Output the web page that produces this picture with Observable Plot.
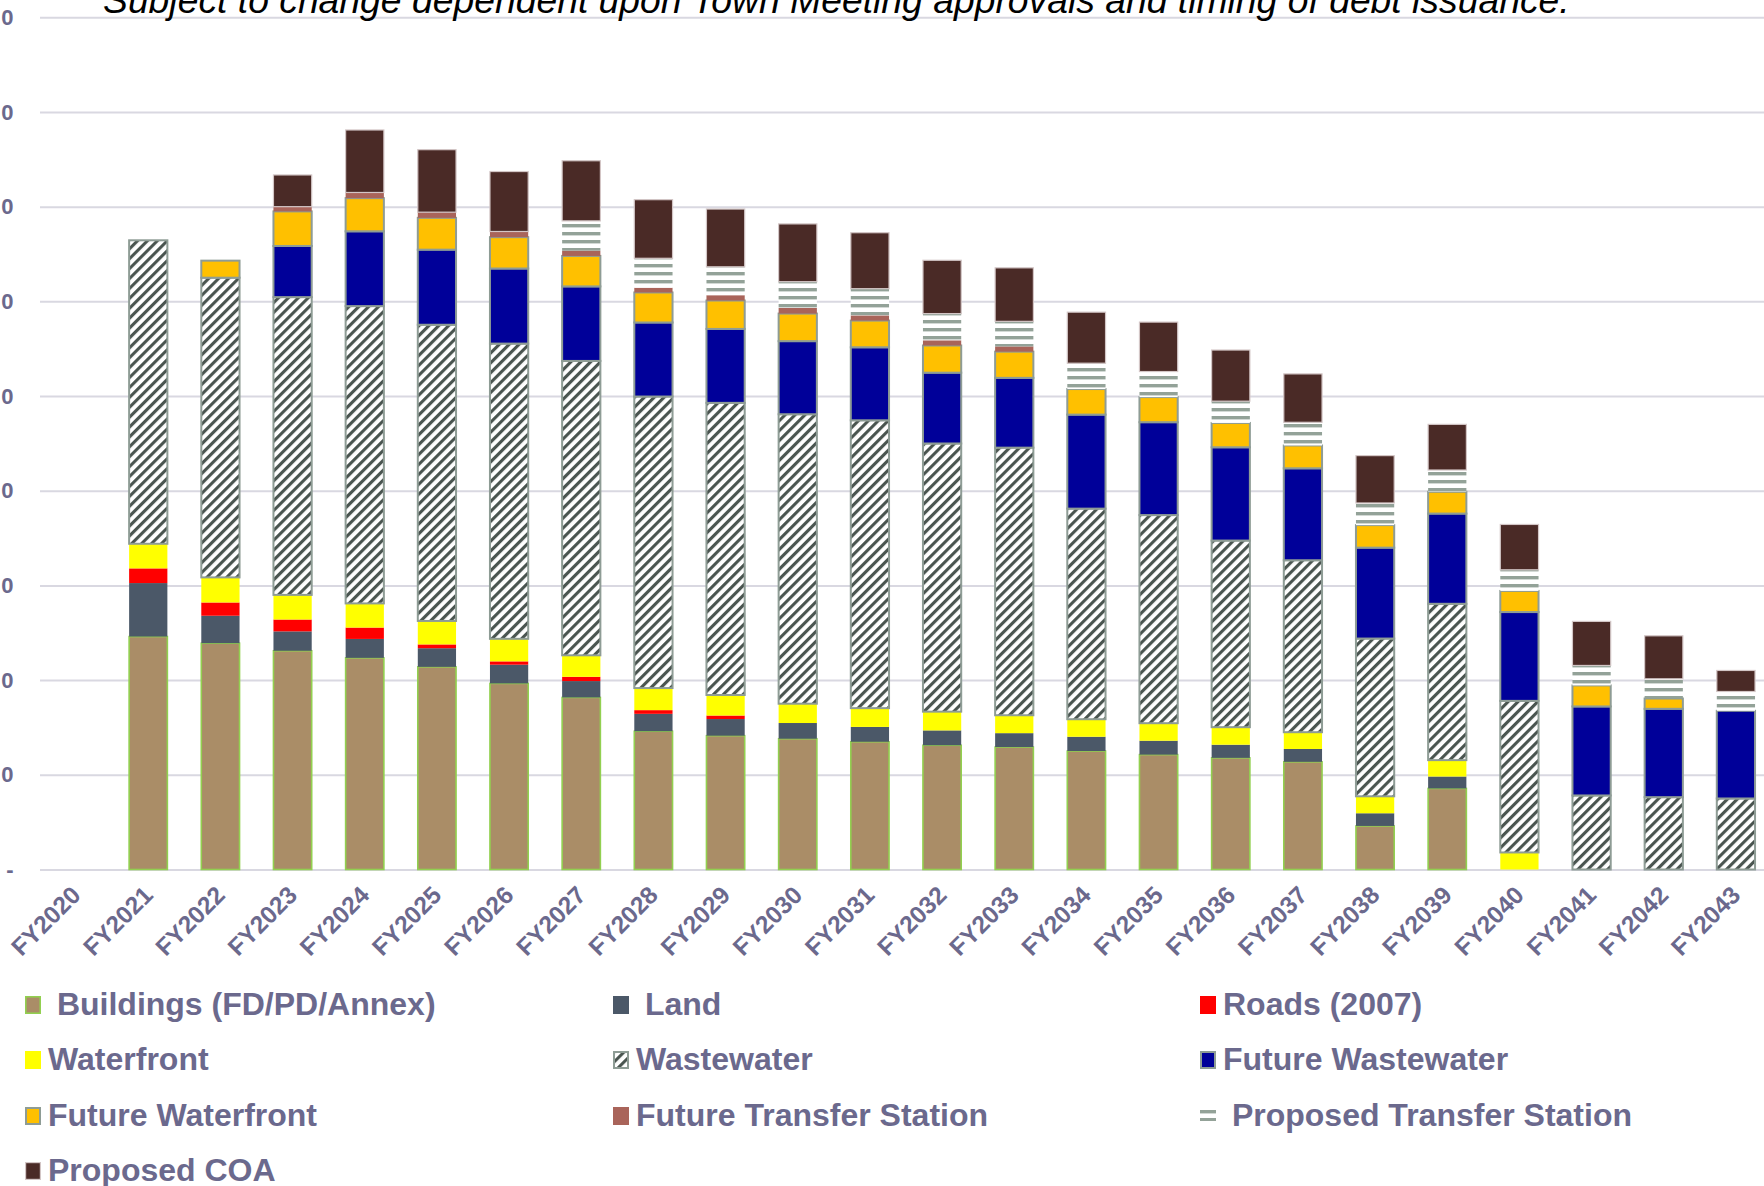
<!DOCTYPE html>
<html>
<head>
<meta charset="utf-8">
<script src="https://cdn.jsdelivr.net/npm/d3@7"></script>
<script src="https://cdn.jsdelivr.net/npm/@observablehq/plot@0.6"></script>
<style>
html, body { margin: 0; padding: 0; background: #fff; }
body { width: 1764px; height: 1186px; overflow: hidden; position: relative; font-family: "Liberation Sans", Arial, sans-serif; }
#title { position: absolute; left: 103px; top: -18px; font-size: 37.3px; line-height: 37px; font-style: italic; color: #000; white-space: nowrap; z-index: 2; }
#chart { position: absolute; left: 0; top: 0; }
#legend { position: absolute; left: 0; top: 975px; width: 1764px; height: 211px; }
.item { position: absolute; height: 40px; display: flex; align-items: center; font-size: 32px; font-weight: bold; color: #6B698D; white-space: pre; }
.item svg { flex: none; margin-right: 7px; }
.item span { line-height: 1; position: relative; top: -1px; }
</style>
</head>
<body>
<svg width="0" height="0" style="position:absolute">
  <defs>
    <pattern id="hatchWW" patternUnits="userSpaceOnUse" width="7" height="7" patternTransform="rotate(45)">
      <rect width="7" height="7" fill="#ffffff"/>
      <rect x="0" y="0" width="3.1" height="7" fill="#4A5550"/>
    </pattern>
    <pattern id="stripePTS" patternUnits="userSpaceOnUse" width="8" height="8">
      <rect width="8" height="8" fill="#ffffff"/>
      <rect x="0" y="0" width="8" height="3.4" fill="#93A298"/>
    </pattern>
  </defs>
</svg>
<div id="title">Subject to change dependent upon Town Meeting approvals and timing of debt issuance.</div>
<div id="chart"></div>
<div id="legend"></div>
<script>
// ---------- data ----------
const years = ["FY2020","FY2021","FY2022","FY2023","FY2024","FY2025","FY2026","FY2027","FY2028","FY2029","FY2030","FY2031",
               "FY2032","FY2033","FY2034","FY2035","FY2036","FY2037","FY2038","FY2039","FY2040","FY2041","FY2042","FY2043"];

const seriesNames = [" Buildings (FD/PD/Annex)", " Land", "Roads (2007)", "Waterfront", "Wastewater",
                     "Future Wastewater", "Future Waterfront", "Future Transfer Station", " Proposed Transfer Station", "Proposed COA"];

const buildings        = [0, 2.46, 2.39, 2.31, 2.235, 2.14, 1.965, 1.817, 1.46, 1.413, 1.381, 1.349, 1.312, 1.293, 1.251, 1.213, 1.179, 1.137, 0.46, 0.856, 0, 0, 0, 0];
const land             = [0, 0.565, 0.29, 0.205, 0.2, 0.197, 0.198, 0.173, 0.184, 0.176, 0.166, 0.157, 0.157, 0.147, 0.151, 0.147, 0.139, 0.136, 0.134, 0.126, 0, 0, 0, 0];
const roads            = [0, 0.155, 0.14, 0.125, 0.12, 0.04, 0.035, 0.045, 0.039, 0.037, 0, 0, 0, 0, 0, 0, 0, 0, 0, 0, 0, 0, 0, 0];
const waterfront       = [0, 0.26, 0.265, 0.26, 0.255, 0.248, 0.238, 0.227, 0.233, 0.217, 0.204, 0.198, 0.198, 0.189, 0.185, 0.185, 0.185, 0.177, 0.179, 0.173, 0.18, 0, 0, 0];
const wastewater       = [0, 3.205, 3.165, 3.145, 3.14, 3.128, 3.118, 3.109, 3.079, 3.085, 3.057, 3.04, 2.832, 2.826, 2.224, 2.198, 1.971, 1.816, 1.666, 1.651, 1.601, 0.782, 0.764, 0.75];
const futureWastewater = [0, 0, 0, 0.54, 0.79, 0.793, 0.793, 0.787, 0.782, 0.781, 0.772, 0.771, 0.748, 0.737, 0.993, 0.981, 0.985, 0.971, 0.96, 0.953, 0.938, 0.94, 0.933, 0.926];
const futureWaterfront = [0, 0, 0.18, 0.365, 0.35, 0.336, 0.331, 0.322, 0.317, 0.30, 0.291, 0.282, 0.287, 0.277, 0.27, 0.265, 0.257, 0.241, 0.238, 0.23, 0.223, 0.222, 0.109, 0];
const futureTransfer   = [0, 0, 0, 0.05, 0.06, 0.06, 0.06, 0.055, 0.05, 0.056, 0.06, 0.055, 0.055, 0.055, 0, 0, 0, 0, 0, 0, 0, 0, 0, 0];
const proposedTransfer = [0, 0, 0, 0, 0, 0, 0, 0.315, 0.311, 0.30, 0.277, 0.282, 0.282, 0.265, 0.273, 0.27, 0.23, 0.245, 0.234, 0.23, 0.223, 0.211, 0.208, 0.204];
const proposedCOA      = [0, 0, 0, 0.335, 0.66, 0.66, 0.633, 0.635, 0.619, 0.61, 0.61, 0.591, 0.563, 0.565, 0.539, 0.522, 0.54, 0.511, 0.5, 0.482, 0.479, 0.465, 0.454, 0.222];

const yTicks = [0, 1, 2, 3, 4, 5, 6, 7, 8, 9];
const yTickLabels = ["-", "0", "0", "0", "0", "0", "0", "0", "0", "0"];

// ---------- styles ----------
const fills   = ["#AA8D67", "#4B5868", "#FF0000", "#FFFF00", "url(#hatchWW)", "#000099", "#FFC000", "#A9645A", "url(#stripePTS)", "#4A2A26"];
const strokes = ["#92D050", "none", "none", "none", "#8E9C95", "#8E9C95", "#8E9C95", "none", "none", "#D3C6C6"];
const strokeWidths = [1.6, 0, 0, 0, 2, 2, 2, 0, 0, 1.2];
const swatchHeights = [18, 18, 18, 18, 18, 18, 18, 18, 11.4, 18];

const seriesValues = [buildings, land, roads, waterfront, wastewater, futureWastewater, futureWaterfront, futureTransfer, proposedTransfer, proposedCOA];
const rows = [];
seriesNames.forEach((s, i) => years.forEach((y, j) => rows.push({year: y, series: s, idx: i, value: seriesValues[i][j]})));

const textColor = "#6B698D";

const chart = Plot.plot({
  width: 1764,
  height: 975,
  marginTop: 17.3,
  marginBottom: 105.5,
  marginLeft: 40,
  marginRight: 0,
  style: {fontFamily: "'Liberation Sans', Arial, sans-serif", background: "transparent", overflow: "visible"},
  x: {domain: years, range: [40, 1772], paddingInner: 0.47, paddingOuter: 0.235, round: false, label: null},
  y: {domain: [0, 9], label: null},
  color: {domain: seriesNames, range: fills},
  marks: [
    Plot.ruleY(yTicks, {stroke: "#D9D8E1", strokeWidth: 2}),
    Plot.barY(rows.filter(d => d.value > 0), {
      x: "year", y: "value", fill: "series",
      stroke: d => strokes[d.idx],
      strokeWidth: d => strokeWidths[d.idx]
    }),
    Plot.axisY(yTicks, {tickSize: 0, tickPadding: 27, tickFormat: d => yTickLabels[yTicks.indexOf(d)], fontSize: 22, fontWeight: "bold", color: textColor, label: null}),
    Plot.axisX({tickSize: 0, tickRotate: -45, tickPadding: 21, fontSize: 24.5, fontWeight: "bold", color: textColor, label: null})
  ]
});
document.getElementById("chart").appendChild(chart);

// ---------- legend ----------
const legendCols = [25, 613, 1200];
const legendRowCenters = [30, 85, 140.5, 196];
const legend = document.getElementById("legend");
seriesNames.forEach((s, i) => {
  const col = i % 3, row = Math.floor(i / 3);
  const item = document.createElement("div");
  item.className = "item";
  item.style.left = legendCols[col] + "px";
  item.style.top = (legendRowCenters[row] - 20) + "px";
  const sw = strokeWidths[i] > 0 ? strokeWidths[i] : 0;
  const h = swatchHeights[i];
  item.innerHTML = `<svg width="16" height="${h}"><rect x="${sw/2}" y="${sw/2}" width="${16 - sw}" height="${h - sw}" fill="${fills[i]}" stroke="${strokes[i]}" stroke-width="${sw}"/></svg><span>${s}</span>`;
  legend.appendChild(item);
});
</script>
</body>
</html>
